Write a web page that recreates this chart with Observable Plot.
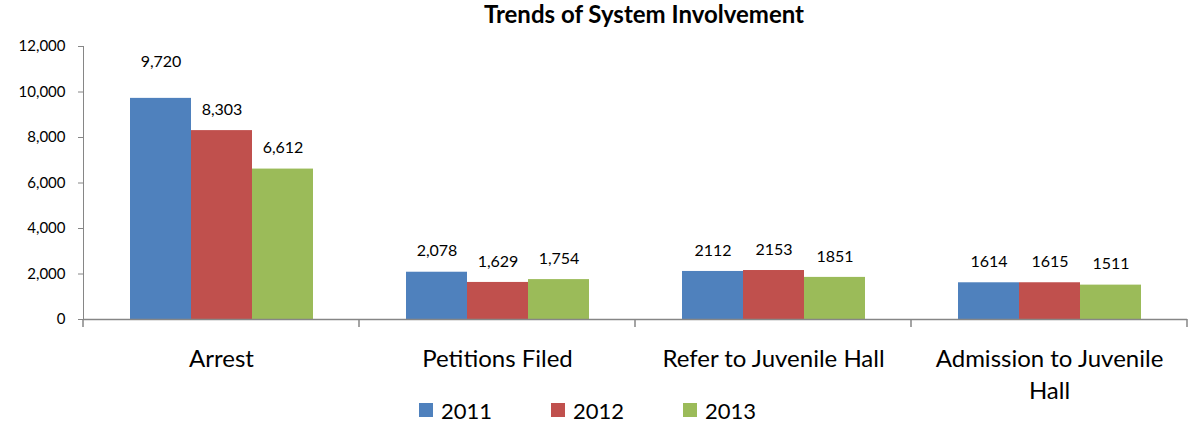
<!DOCTYPE html>
<html><head><meta charset="utf-8">
<script src="https://cdn.jsdelivr.net/npm/d3@7"></script>
<script src="https://cdn.jsdelivr.net/npm/@observablehq/plot@0.6"></script>
<style>
body{margin:0;background:#fff;font-family:Lato, sans-serif;color:#000;position:relative;}
#title{height:30px;line-height:28px;font-weight:bold;font-size:24px;text-align:center;padding-left:100px;box-sizing:border-box;width:1188px;}
#legend{position:absolute;left:0;top:395px;height:28px;display:flex;align-items:center;padding-left:419px;padding-top:2px;box-sizing:border-box;width:1188px;font-size:22px;}
#legend .item{display:flex;align-items:center;margin-right:59px;}
#legend .sw{width:14px;height:14px;margin-right:8px;}
g[aria-label="y-axis tick"] path{stroke:#868686;}
g[aria-label="frame"] line, g[aria-label="frame"] rect{stroke:#868686;}
</style></head>
<body>
<div id="title"></div>
<div id="chart"></div>
<div id="legend"></div>
<script>
const titleText = "Trends of System Involvement";
const categories = ["Arrest", "Petitions Filed", "Refer to Juvenile Hall", "Admission to Juvenile Hall"];
const categoryLabels = ["Arrest", "Petitions Filed", "Refer to Juvenile Hall", "Admission to Juvenile\nHall"];
const years = ["2011", "2012", "2013"];
const values2011 = [9720, 2078, 2112, 1614];
const values2012 = [8303, 1629, 2153, 1615];
const values2013 = [6612, 1754, 1851, 1511];
const labels2011 = ["9,720", "2,078", "2112", "1614"];
const labels2012 = ["8,303", "1,629", "2153", "1615"];
const labels2013 = ["6,612", "1,754", "1851", "1511"];
const yTicks = [0, 2000, 4000, 6000, 8000, 10000, 12000];
const colors = ["#4F81BD", "#C0504D", "#9BBB59"];

const seriesValues = [values2011, values2012, values2013];
const seriesLabels = [labels2011, labels2012, labels2013];
const rows = [];
categories.forEach((c, i) => years.forEach((y, j) => rows.push({category: c, year: y, value: seriesValues[j][i], label: seriesLabels[j][i]})));
const maxValue = d3.max(rows, d => d.value);

document.getElementById("title").textContent = titleText;

const chart = Plot.plot({
  width: 1188,
  height: 393,
  marginLeft: 82,
  marginRight: 0,
  marginTop: 16,
  marginBottom: 104,
  style: {fontFamily: "Lato, sans-serif", fontSize: "15px", color: "#000", background: "#fff"},
  fx: {domain: categories, padding: 0, label: null},
  x: {domain: years, paddingInner: 0, paddingOuter: 0.75, axis: null},
  y: {domain: [0, 12000], ticks: yTicks, tickFormat: d3.format(","), tickSize: 5, tickPadding: 13, label: null, line: true},
  color: {domain: years, range: colors},
  marks: [
    Plot.barY(rows, {fx: "category", x: "year", y: "value", fill: "year"}),
    Plot.ruleY([0], {stroke: "#868686", strokeWidth: 1.5}),
    Plot.text(rows, {filter: d => d.value !== maxValue, fx: "category", x: "year", y: "value", text: "label", dy: -21, fontSize: 16, fill: "#000"}),
    Plot.text(rows, {filter: d => d.value === maxValue, fx: "category", x: "year", y: "value", text: "label", dy: -36, fontSize: 16, fill: "#000"}),
    Plot.axisFx({anchor: "bottom", tickSize: 0, tickPadding: 25, fontSize: 24, lineHeight: 1.33, label: null,
      tickFormat: d => categoryLabels[categories.indexOf(d)], fill: "#000"})
  ]
});
document.getElementById("chart").appendChild(chart);

// category separator ticks below the baseline, placed with the fx and y scales
const fx = chart.scale("fx");
const yS = chart.scale("y");
const y0 = yS.apply(0);
const edges = categories.map(c => fx.apply(c)).concat([fx.apply(categories[categories.length - 1]) + fx.bandwidth]);
d3.select(chart).append("g").attr("aria-label", "category ticks")
  .selectAll("line").data(edges).join("line")
  .attr("x1", d => d).attr("x2", d => d)
  .attr("y1", y0).attr("y2", y0 + 8)
  .attr("stroke", "#868686").attr("stroke-width", 1.5);

const legend = d3.select("#legend");
years.forEach((y, j) => {
  const it = legend.append("div").attr("class", "item");
  it.append("div").attr("class", "sw").style("background", colors[j]);
  it.append("span").text(y);
});
</script>
</body></html>
